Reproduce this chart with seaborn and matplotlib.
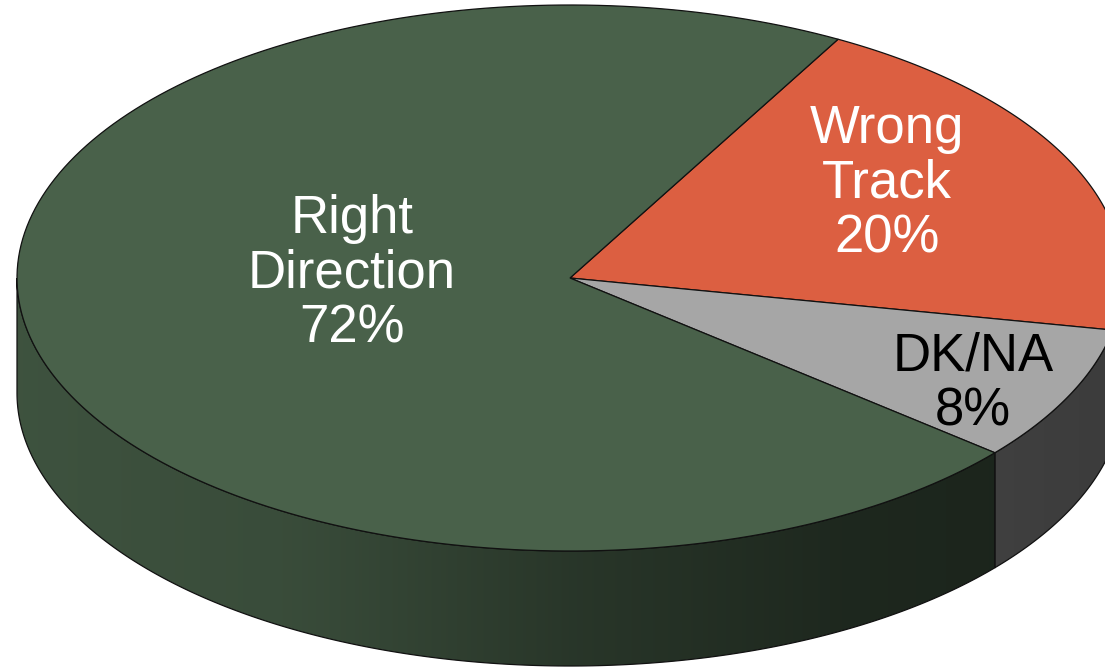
"""3D style pie chart - Right Direction / Wrong Track."""

import numpy as np
import matplotlib
matplotlib.use("Agg")
import matplotlib.pyplot as plt
from matplotlib.patches import Polygon
import seaborn as sns

# Data
labels = ['Wrong\nTrack', 'DK/NA', 'Right\nDirection']
values = [20, 8, 72]
top_colors = ['#DC5F41', '#A6A6A6', '#49614A']
text_colors = ['white', 'black', 'white']

# Layout (pixel coordinates)
label_xy = [(887, 184), (973, 384), (352, 274)]
start_angle = 61
cx, cy, rx, ry, depth = 570, 278, 553, 273, 115
shade_stops = [0.85, 0.78, 0.56, 0.41, 0.36]


def arc(a_from, a_to, dy=0, n=200):
    """Points along the ellipse between two angles (degrees)."""
    t = np.radians(np.linspace(a_from, a_to, n))
    return np.column_stack([cx + rx * np.cos(t), cy - ry * np.sin(t) + dy])


sns.set_style('white')
plt.rcParams['font.family'] = ['Liberation Sans', 'DejaVu Sans']

fig = plt.figure(figsize=(11.05, 6.68), dpi=100)
ax = fig.add_axes([0, 0, 1, 1])

# Slice angles, clockwise from the start angle
fracs = np.array(values) / np.sum(values) * 360
hi = start_angle - np.concatenate([[0], np.cumsum(fracs)[:-1]])
lo = hi - fracs

# Side walls - only the front half is visible
for a_hi, a_lo, col in zip(hi, lo, top_colors):
    for k in (-1, 0, 1):
        f_lo, f_hi = -180 + 360 * k, 0 + 360 * k
        s, e = max(a_lo, f_lo), min(a_hi, f_hi)
        if e <= s:
            continue
        top = arc(e, s)
        bot = arc(s, e, dy=depth)
        pts = np.vstack([top, bot])
        clip = Polygon(pts, closed=True, facecolor='none', edgecolor='none')
        ax.add_patch(clip)
        base = np.array(matplotlib.colors.to_rgb(col))
        pal = sns.blend_palette([base * f for f in shade_stops], n_colors=400)
        img = np.array(pal)[None, :, :]
        im = ax.imshow(img, extent=(cx - rx, cx + rx, cy + ry + depth + 5, cy - 5),
                       aspect='auto', interpolation='bilinear', zorder=1)
        im.set_clip_path(clip)
        ax.add_patch(Polygon(pts, closed=True, facecolor='none',
                             edgecolor='#111111', lw=0.9, zorder=2))

# Top faces
for a_hi, a_lo, col in zip(hi, lo, top_colors):
    pts = np.vstack([[cx, cy], arc(a_hi, a_lo)])
    ax.add_patch(Polygon(pts, closed=True, facecolor=col,
                         edgecolor='#111111', lw=0.9, zorder=3))

# Labels
for lab, val, (x, y), tc in zip(labels, values, label_xy, text_colors):
    ax.text(x, y, '{}\n{}%'.format(lab, val), color=tc, fontsize=38,
            ha='center', va='center', multialignment='center',
            linespacing=1.12, zorder=4)

ax.set_xlim(0, 1105)
ax.set_ylim(668, 0)
ax.axis('off')

fig.savefig('out.png', dpi=100, facecolor='white')
